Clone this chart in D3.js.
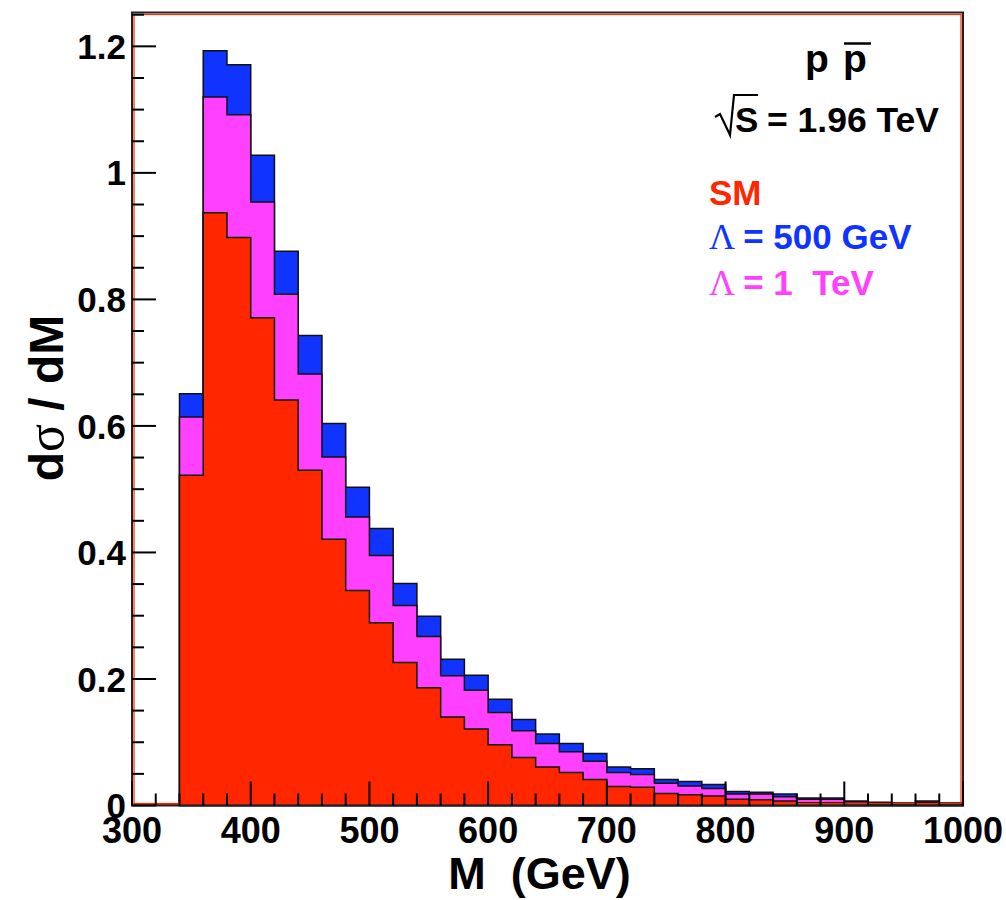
<!DOCTYPE html>
<html>
<head>
<meta charset="utf-8">
<script src="https://cdn.jsdelivr.net/npm/d3@7"></script>
<style>
  body { margin: 0; background: #fff; }
  text { font-family: "Liberation Sans", Arial, sans-serif; font-weight: bold; }
  .sym { font-family: "Liberation Serif", "Times New Roman", serif; font-weight: normal; }
</style>
</head>
<body>
<div id="chart"></div>
<script>
// bin lower edges (GeV), 20 GeV wide
const binLow = [340, 360, 380, 400, 420, 440, 460, 480, 500, 520, 540, 560, 580, 600, 620, 640,
                660, 680, 700, 720, 740, 760, 780, 800, 820, 840, 860, 880, 900, 920, 940, 960, 980];
const binWidth = 20;

// dsigma/dM, Lambda = 500 GeV
const lam500 = [0.651, 1.193, 1.171, 1.028, 0.876, 0.743, 0.604, 0.503, 0.438, 0.351, 0.299, 0.231, 0.206,
                0.168, 0.136, 0.113, 0.098, 0.082, 0.061, 0.058, 0.041, 0.038, 0.033, 0.022, 0.021, 0.018,
                0.012, 0.012, 0.007, 0.005, 0.004, 0.007, 0.004];
// Lambda = 1 TeV
const lam1tev = [0.614, 1.120, 1.092, 0.954, 0.808, 0.682, 0.551, 0.456, 0.395, 0.316, 0.267, 0.205, 0.182,
                 0.147, 0.118, 0.098, 0.085, 0.070, 0.052, 0.049, 0.035, 0.031, 0.027, 0.018, 0.018, 0.014,
                 0.010, 0.010, 0.006, 0.004, 0.003, 0.005, 0.003];
// SM
const sm = [0.522, 0.937, 0.898, 0.771, 0.641, 0.530, 0.421, 0.340, 0.289, 0.226, 0.186, 0.140, 0.121,
            0.096, 0.076, 0.061, 0.052, 0.041, 0.030, 0.029, 0.019, 0.017, 0.015, 0.010, 0.009, 0.007,
            0.0045, 0.0045, 0.003, 0.002, 0.002, 0.003, 0.002];

const xTicks = [300, 400, 500, 600, 700, 800, 900, 1000];
const yTicks = [0, 0.2, 0.4, 0.6, 0.8, 1, 1.2];

const colRed = '#ff2600', colBlue = '#1033ff', colMag = '#ff40ff';

const W = 1006, H = 900;
const margin = { top: 12.5, right: 43, bottom: 94.5, left: 132 };

let svg = d3.select('#chart').append('svg')
    .attr('width', W)
    .attr('height', H);

let x = d3.scaleLinear().domain([300, 1000]).range([margin.left, W - margin.right]);
let y = d3.scaleLinear().domain([0, 1.2535]).range([H - margin.bottom, margin.top]);

let plot = svg.append('g');

// step outline for one histogram
function histPoints(vals) {
    let pts = [[x(binLow[0]), y(0)]];
    vals.forEach((v, i) => {
        pts.push([x(binLow[i]), y(v)]);
        pts.push([x(binLow[i] + binWidth), y(v)]);
    });
    pts.push([x(binLow[binLow.length - 1] + binWidth), y(0)]);
    return pts;
}
let line = d3.line();

const series = [
    { vals: lam500, color: colBlue },
    { vals: lam1tev, color: colMag },
    { vals: sm, color: colRed }
];

plot.selectAll('path.hist').data(series)
    .join('path')
    .attr('class', 'hist')
    .attr('d', d => line(histPoints(d.vals)) + 'Z')
    .attr('fill', d => d.color)
    .attr('stroke', '#111')
    .attr('stroke-width', 1.5)
    .attr('stroke-linejoin', 'miter');

// empty SM bins below threshold
plot.append('line')
    .attr('x1', x(300)).attr('x2', x(binLow[0]))
    .attr('y1', y(0) - 1).attr('y2', y(0) - 1)
    .attr('stroke', colRed).attr('stroke-width', 2);

// frame
let fx0 = x(300), fx1 = x(1000), fy0 = y(1.2535), fy1 = y(0);
svg.append('rect')
    .attr('x', fx0 + 2).attr('y', fy0 + 2)
    .attr('width', fx1 - fx0 - 4).attr('height', fy1 - fy0 - 4)
    .attr('fill', 'none').attr('stroke', colRed).attr('stroke-width', 1.2);
svg.append('rect')
    .attr('x', fx0).attr('y', fy0)
    .attr('width', fx1 - fx0).attr('height', fy1 - fy0)
    .attr('fill', 'none').attr('stroke', '#222').attr('stroke-width', 2);

// y axis ticks (inward)
let yMinor = d3.range(0, 1.26, 0.05);
svg.append('g').selectAll('line').data(yMinor)
    .join('line')
    .attr('x1', fx0).attr('x2', (d, i) => fx0 + (i % 4 === 0 ? 24 : 12))
    .attr('y1', d => y(d)).attr('y2', d => y(d))
    .attr('stroke', '#000').attr('stroke-width', 2);

svg.append('g').selectAll('text').data(yTicks)
    .join('text')
    .attr('x', 126)
    .attr('y', d => y(d))
    .attr('dy', '0.36em')
    .attr('text-anchor', 'end')
    .style('font-size', '35px')
    .text(d => d3.format('~g')(d));

// x axis ticks (inward)
let xMinor = d3.range(300, 1001, 20);
svg.append('g').selectAll('line').data(xMinor)
    .join('line')
    .attr('x1', d => x(d)).attr('x2', d => x(d))
    .attr('y1', fy1).attr('y2', (d, i) => fy1 - (i % 5 === 0 ? 24 : 12))
    .attr('stroke', '#000').attr('stroke-width', 2);

svg.append('g').selectAll('text').data(xTicks)
    .join('text')
    .attr('x', d => x(d))
    .attr('y', 843)
    .attr('text-anchor', 'middle')
    .style('font-size', '36px')
    .text(d => d);

// axis titles
svg.append('text')
    .attr('x', (fx0 + fx1) / 2 - 8)
    .attr('y', 889)
    .attr('text-anchor', 'middle')
    .style('font-size', '45px')
    .attr('xml:space', 'preserve')
    .text('M  (GeV)');

svg.append('text')
    .attr('transform', 'translate(63,' + 398 + ') rotate(-90)')
    .attr('text-anchor', 'middle')
    .style('font-size', '48px')
    .html('d<tspan class="sym" style="font-size:52px">σ</tspan> / dM');

// p pbar
let ann = svg.append('g');
ann.append('text').attr('x', 805).attr('y', 72).style('font-size', '39px').text('p');
ann.append('text').attr('x', 843).attr('y', 72).style('font-size', '39px').text('p');
ann.append('line').attr('x1', 844).attr('x2', 871).attr('y1', 43.5).attr('y2', 43.5)
    .attr('stroke', '#000').attr('stroke-width', 2.5);

// sqrt(S)
ann.append('path')
    .attr('d', 'M715,117 L720,114 L730,135 L734,95 L758,95')
    .attr('fill', 'none').attr('stroke', '#000').attr('stroke-width', 2.2);
ann.append('text').attr('x', 735).attr('y', 131.5).style('font-size', '35px').text('S');
ann.append('text').attr('x', 767).attr('y', 131.5).style('font-size', '35.5px').text('= 1.96 TeV');

// legend
const legendLabels = ['SM', '= 500 GeV', '= 1  TeV'];
const legendColors = [colRed, colBlue, colMag];
const legendY = [205, 248.5, 295];
legendLabels.forEach((lab, i) => {
    let t = ann.append('text')
        .attr('x', 709).attr('y', legendY[i])
        .attr('xml:space', 'preserve')
        .style('font-size', '35px')
        .attr('fill', legendColors[i]);
    if (i > 0) {
        t.append('tspan').attr('class', 'sym').style('font-size', '36px').text('Λ ');
    }
    t.append('tspan').text(lab);
});
</script>
</body>
</html>
